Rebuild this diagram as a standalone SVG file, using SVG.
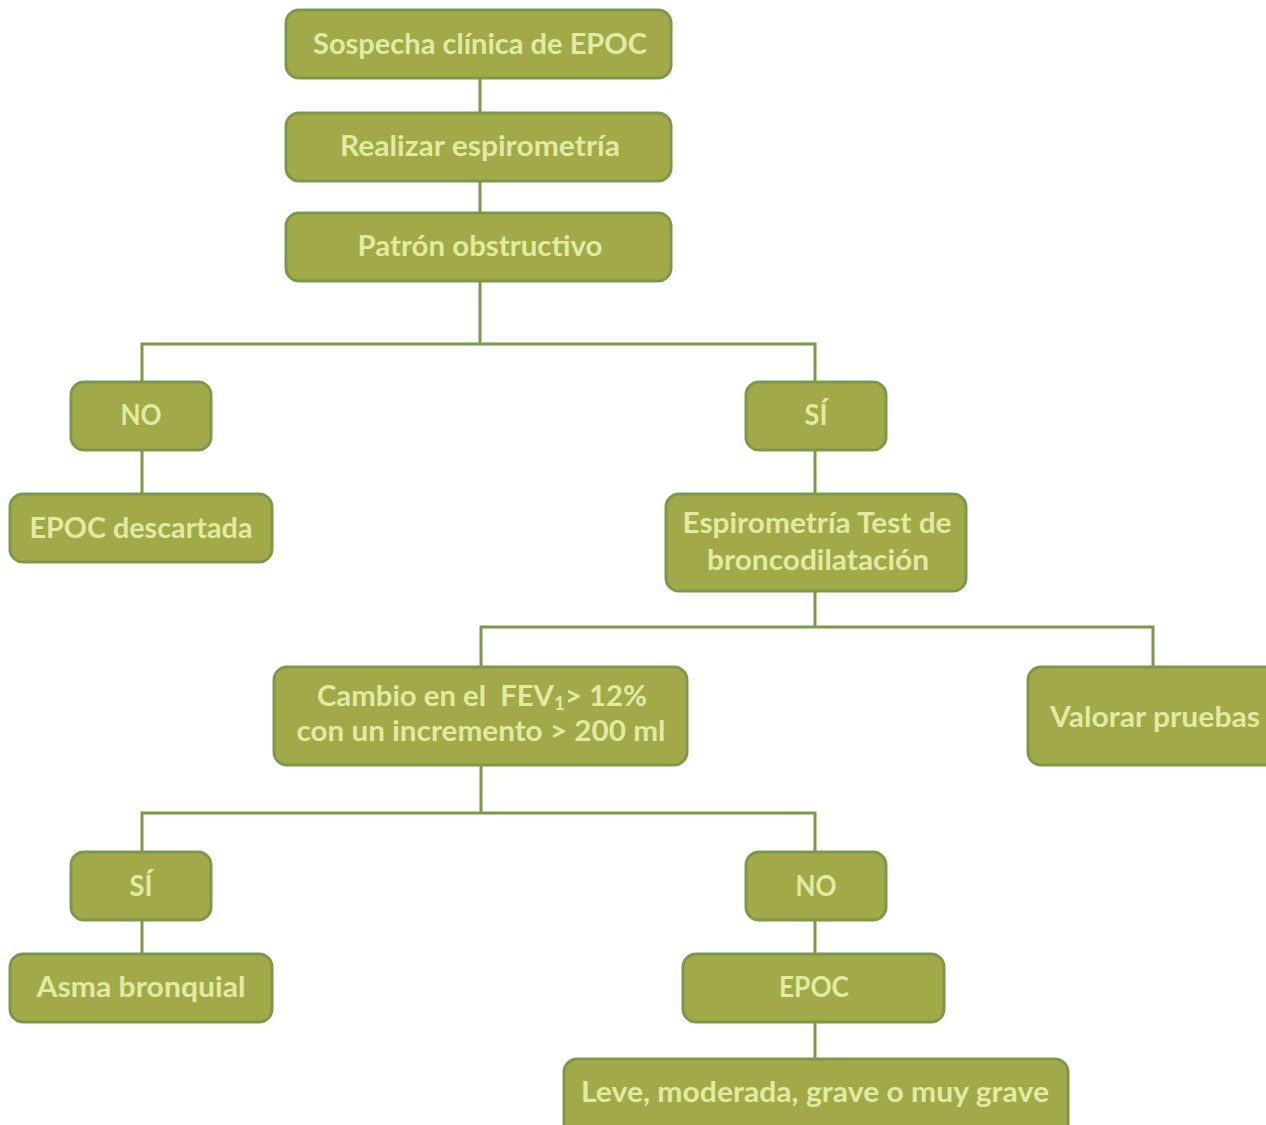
<svg xmlns="http://www.w3.org/2000/svg" width="1266" height="1125" viewBox="0 0 1266 1125">
<style>
.box{fill:#A2A948;stroke:#7A9A4A;stroke-width:3}
.t{font-family:Lato,"Open Sans","Liberation Sans",sans-serif;font-weight:bold;font-size:28px;fill:#E1EBA2;text-anchor:middle}
.c{fill:none;stroke:#7A9A4A;stroke-width:3}
</style>
<rect width="1266" height="1125" fill="#FFFFFF"/>
<g id="connectors">
<path class="c" d="M480 78V113M480 181V213M480 281V344M142 382V344H815V382M142 450V494M815 450V494M815 591V627M481 667V627H1153V667M481 765V813M142 852V813H815V852M142 920V954M815 920V954M815 1022V1059"/>
</g>
<g id="n1"><rect class="box" x="286" y="10" width="385" height="68" rx="13"/><text class="t" x="480" y="54" textLength="334" lengthAdjust="spacingAndGlyphs">Sospecha clínica de EPOC</text></g>
<g id="n2"><rect class="box" x="286" y="113" width="385" height="68" rx="13"/><text class="t" x="480" y="156" textLength="280" lengthAdjust="spacingAndGlyphs">Realizar espirometría</text></g>
<g id="n3"><rect class="box" x="286" y="213" width="385" height="68" rx="13"/><text class="t" x="480" y="256" textLength="245" lengthAdjust="spacingAndGlyphs">Patrón obstructivo</text></g>
<g id="n4"><rect class="box" x="71" y="382" width="140" height="68" rx="13"/><text class="t" x="141" y="425" textLength="41" lengthAdjust="spacingAndGlyphs">NO</text></g>
<g id="n5"><rect class="box" x="746" y="382" width="140" height="68" rx="13"/><text class="t" x="816" y="425" textLength="23" lengthAdjust="spacingAndGlyphs">SÍ</text></g>
<g id="n6"><rect class="box" x="10" y="494" width="262" height="68" rx="13"/><text class="t" x="141" y="538" textLength="223" lengthAdjust="spacingAndGlyphs">EPOC descartada</text></g>
<g id="n7"><rect class="box" x="666" y="494" width="300" height="97" rx="13"/><text class="t" x="817" y="533" textLength="269" lengthAdjust="spacingAndGlyphs">Espirometría Test de</text><text class="t" x="818" y="570" textLength="222" lengthAdjust="spacingAndGlyphs">broncodilatación</text></g>
<g id="n8"><rect class="box" x="274" y="667" width="413" height="98" rx="13"/><text class="t" x="482" y="706" textLength="330" lengthAdjust="spacingAndGlyphs">Cambio en el&#160; FEV<tspan font-size="18" dy="4">1</tspan><tspan dy="-4">&gt; 12%</tspan></text><text class="t" x="481" y="741" textLength="369" lengthAdjust="spacingAndGlyphs">con un incremento &gt; 200 ml</text></g>
<g id="n9"><rect class="box" x="1028" y="667" width="250" height="98" rx="13"/><text class="t" x="1155" y="727" textLength="210" lengthAdjust="spacingAndGlyphs">Valorar pruebas</text></g>
<g id="n10"><rect class="box" x="71" y="852" width="140" height="68" rx="13"/><text class="t" x="141" y="896" textLength="23" lengthAdjust="spacingAndGlyphs">SÍ</text></g>
<g id="n11"><rect class="box" x="746" y="852" width="140" height="68" rx="13"/><text class="t" x="816" y="896" textLength="41" lengthAdjust="spacingAndGlyphs">NO</text></g>
<g id="n12"><rect class="box" x="10" y="954" width="262" height="68" rx="13"/><text class="t" x="141" y="997" textLength="209" lengthAdjust="spacingAndGlyphs">Asma bronquial</text></g>
<g id="n13"><rect class="box" x="683" y="954" width="261" height="68" rx="13"/><text class="t" x="814" y="997" textLength="70" lengthAdjust="spacingAndGlyphs">EPOC</text></g>
<g id="n14"><rect class="box" x="564" y="1059" width="504" height="80" rx="13"/><text class="t" x="815" y="1102" textLength="468" lengthAdjust="spacingAndGlyphs">Leve, moderada, grave o muy grave</text></g>
</svg>
